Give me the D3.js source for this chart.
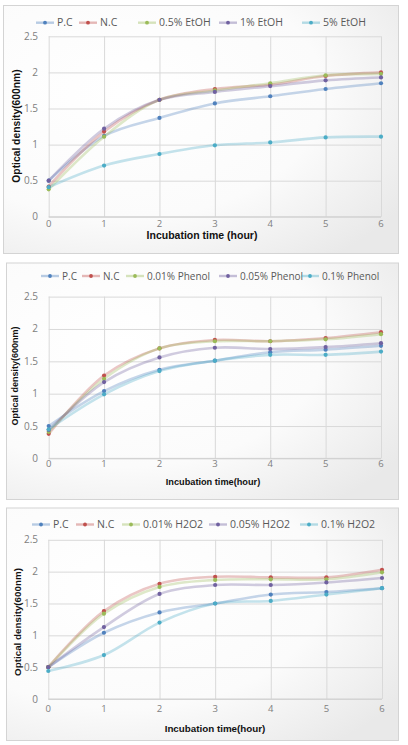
<!DOCTYPE html>
<html><head><meta charset="utf-8">
<script src="https://cdn.jsdelivr.net/npm/d3@7"></script>
<style>html,body{margin:0;padding:0;background:#fff;}svg{display:block;}</style>
</head><body>
<svg id="c" width="408" height="745"></svg>
<script>
// ---- data ----
const hours = [0, 1, 2, 3, 4, 5, 6];
const yTicks = [0, 0.5, 1, 1.5, 2, 2.5];

const etohNames = ["P.C", "N.C", "0.5% EtOH", "1% EtOH", "5% EtOH"];
const etohPC   = [0.50, 1.12, 1.37, 1.57, 1.67, 1.77, 1.85];
const etohNC   = [0.42, 1.18, 1.62, 1.77, 1.83, 1.95, 2.00];
const etoh05   = [0.38, 1.11, 1.62, 1.75, 1.85, 1.96, 1.98];
const etoh1    = [0.50, 1.22, 1.62, 1.73, 1.81, 1.89, 1.93];
const etoh5    = [0.41, 0.71, 0.87, 0.99, 1.03, 1.10, 1.11];

const phenolNames = ["P.C", "N.C", "0.01% Phenol", "0.05% Phenol", "0.1% Phenol"];
const phenolPC  = [0.50, 1.04, 1.37, 1.51, 1.64, 1.68, 1.74];
const phenolNC  = [0.38, 1.28, 1.70, 1.83, 1.81, 1.86, 1.95];
const phenol001 = [0.41, 1.23, 1.70, 1.81, 1.81, 1.84, 1.92];
const phenol005 = [0.44, 1.18, 1.56, 1.71, 1.69, 1.72, 1.78];
const phenol01  = [0.45, 0.99, 1.35, 1.51, 1.60, 1.60, 1.65];

const h2o2Names = ["P.C", "N.C", "0.01% H2O2", "0.05% H2O2", "0.1% H2O2"];
const h2o2PC  = [0.50, 1.04, 1.36, 1.50, 1.64, 1.68, 1.74];
const h2o2NC  = [0.50, 1.38, 1.81, 1.92, 1.91, 1.91, 2.03];
const h2o2001 = [0.50, 1.34, 1.76, 1.87, 1.88, 1.88, 1.99];
const h2o2005 = [0.50, 1.13, 1.65, 1.79, 1.79, 1.83, 1.90];
const h2o201  = [0.44, 0.69, 1.20, 1.50, 1.54, 1.64, 1.74];

const colors = ["#4F81BD", "#C0504D", "#9BBB59", "#7061A0", "#4BACC6"];

// ---- layout ----
const panels = [
  {names: etohNames, series: [etohPC, etohNC, etoh05, etoh1, etoh5],
   box: [3, 5, 395, 248], x0: 48.7, x1: 381, yTop: 36.3, yBot: 216.8,
   legendY: 22.7, legendX: [36, 79, 138, 219, 302], legendSize: 10.5,
   xTitle: "Incubation time (hour)", xTitleX: 202, xTitleY: 235.5, xTitleSize: 10.5,
   tickY: 224, yTitleX: 16.7, yTitleY: 126, yTitleSize: 10.3},
  {names: phenolNames, series: [phenolPC, phenolNC, phenol001, phenol005, phenol01],
   box: [6, 262.5, 392, 236.5], x0: 48.7, x1: 381, yTop: 296.6, yBot: 458.4,
   legendY: 276, legendX: [41, 82, 126, 219, 301], legendSize: 10,
   xTitle: "Incubation time(hour)", xTitleX: 213, xTitleY: 481.7, xTitleSize: 9.2,
   tickY: 464, yTitleX: 15, yTitleY: 376, yTitleSize: 9},
  {names: h2o2Names, series: [h2o2PC, h2o2NC, h2o2001, h2o2005, h2o201],
   box: [6, 507.5, 392, 232.5], x0: 48.3, x1: 382, yTop: 539.8, yBot: 699,
   legendY: 524.5, legendX: [32, 76, 122, 209, 300], legendSize: 10.5,
   xTitle: "Incubation  time(hour)", xTitleX: 215, xTitleY: 729, xTitleSize: 9.8,
   tickY: 709, yTitleX: 17.3, yTitleY: 622, yTitleSize: 9.8}
];

const svg = d3.select("#c");
const defs = svg.append("defs");
const grad = defs.append("radialGradient").attr("id", "bg")
  .attr("cx", "30%").attr("cy", "35%").attr("r", "85%");
grad.append("stop").attr("offset", "0%").attr("stop-color", "#ffffff");
grad.append("stop").attr("offset", "60%").attr("stop-color", "#fbfbfb");
grad.append("stop").attr("offset", "100%").attr("stop-color", "#e9e9e9");

const font = "'Open Sans', 'Noto Sans', sans-serif";

panels.forEach(p => {
  const g = svg.append("g");
  g.append("rect").attr("x", p.box[0] + 0.5).attr("y", p.box[1] + 0.5)
    .attr("width", p.box[2]).attr("height", p.box[3])
    .attr("fill", "url(#bg)").attr("stroke", "#d4d4d4").attr("stroke-width", 1);

  const x = d3.scaleLinear().domain([0, 6]).range([p.x0, p.x1]);
  const y = d3.scaleLinear().domain([0, 2.5]).range([p.yBot, p.yTop]);

  // gridlines
  const xAxis = d3.axisBottom(x).tickValues(hours).tickSize(-(p.yBot - p.yTop)).tickFormat("");
  const yAxis = d3.axisLeft(y).tickValues(yTicks).tickSize(-(p.x1 - p.x0)).tickFormat("");
  const gx = g.append("g").attr("transform", `translate(0,${p.yBot})`).call(xAxis);
  const gy = g.append("g").attr("transform", `translate(${p.x0},0)`).call(yAxis);
  [gx, gy].forEach(a => {
    a.select(".domain").remove();
    a.selectAll(".tick line").attr("stroke", "#d9d9d9").attr("stroke-width", 1);
  });
  g.append("line").attr("x1", p.x0).attr("x2", p.x1).attr("y1", p.yBot).attr("y2", p.yBot)
    .attr("stroke", "#d0d0d0");

  // tick labels
  g.append("g").selectAll("text").data(hours).join("text")
    .attr("x", d => x(d)).attr("y", p.tickY).attr("dy", "0.35em")
    .attr("text-anchor", "middle").attr("font-family", font).attr("font-size", 9.5)
    .attr("fill", "#808080").text(d => d);
  g.append("g").selectAll("text").data(yTicks).join("text")
    .attr("x", 38).attr("y", d => y(d)).attr("dy", "0.35em")
    .attr("text-anchor", "end").attr("font-family", font).attr("font-size", 10)
    .attr("fill", "#808080").text(d => d);

  // axis titles
  g.append("text").attr("x", p.xTitleX).attr("y", p.xTitleY).attr("dy", "0.35em")
    .attr("text-anchor", "middle").attr("font-family", "'Liberation Sans', Arial, sans-serif")
    .attr("font-weight", "bold").attr("font-size", p.xTitleSize).attr("fill", "#111")
    .text(p.xTitle);
  g.append("text").attr("transform", `translate(${p.yTitleX},${p.yTitleY}) rotate(-90)`)
    .attr("dy", "0.35em").attr("text-anchor", "middle")
    .attr("font-family", "'Liberation Sans', Arial, sans-serif")
    .attr("font-weight", "bold").attr("font-size", p.yTitleSize).attr("fill", "#111")
    .text("Optical density(600nm)");

  // lines
  const line = d3.line().x((d, i) => x(hours[i])).y(d => y(d)).curve(d3.curveCatmullRom.alpha(0.5));
  p.series.forEach((s, k) => {
    g.append("path").attr("d", line(s)).attr("fill", "none")
      .attr("stroke", colors[k]).attr("stroke-opacity", 0.32).attr("stroke-width", 2.6);
  });
  p.series.forEach((s, k) => {
    g.append("g").selectAll("circle").data(s).join("circle")
      .attr("cx", (d, i) => x(hours[i])).attr("cy", d => y(d)).attr("r", 2.1)
      .attr("fill", colors[k]);
  });

  // legend
  p.names.forEach((n, k) => {
    const lx = p.legendX[k];
    g.append("line").attr("x1", lx).attr("x2", lx + 18).attr("y1", p.legendY).attr("y2", p.legendY)
      .attr("stroke", colors[k]).attr("stroke-opacity", 0.4).attr("stroke-width", 2.4);
    g.append("circle").attr("cx", lx + 9).attr("cy", p.legendY).attr("r", 1.9).attr("fill", colors[k]);
    g.append("text").attr("x", lx + 21).attr("y", p.legendY).attr("dy", "0.35em")
      .attr("font-family", font).attr("font-size", p.legendSize).attr("fill", "#595959").text(n);
  });
});
</script>
</body></html>
